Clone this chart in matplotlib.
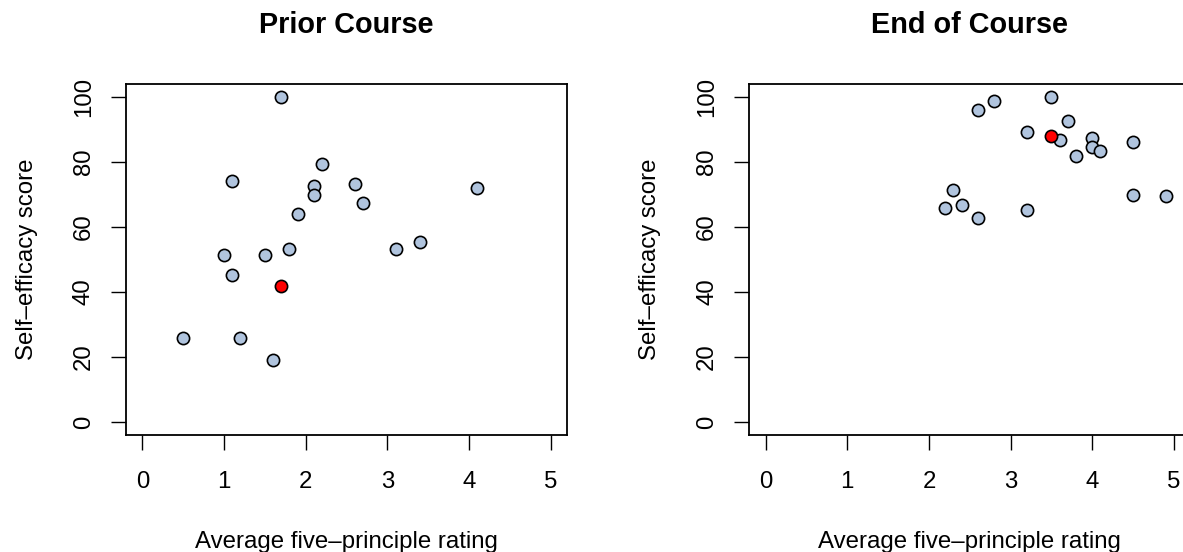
import matplotlib
matplotlib.use("Agg")
import matplotlib.pyplot as plt

plt.rcParams['font.family'] = ['Liberation Sans', 'DejaVu Sans']

# Prior Course (blue points) and highlighted respondent (red)
prior_x = [1.7, 2.2, 1.1, 2.1, 2.1, 2.6, 4.1, 2.7, 1.9, 1.0, 1.5, 1.8, 3.1, 3.4, 1.1, 0.5, 1.2, 1.6]
prior_y = [100, 79.3, 74.1, 72.6, 70.0, 73.3, 72.0, 67.3, 64.0, 51.3, 51.3, 53.2, 53.2, 55.3, 45.3, 26.0, 26.0, 19.2]
prior_red = (1.7, 42.0)

# End of Course
end_x = [3.5, 2.8, 2.6, 3.7, 3.2, 3.6, 4.0, 4.0, 4.1, 3.8, 4.5, 2.3, 2.2, 2.4, 2.6, 3.2, 4.5, 4.9]
end_y = [100, 98.7, 96.0, 92.7, 89.3, 86.7, 87.4, 84.7, 83.4, 82.0, 86.1, 71.4, 66.0, 66.7, 62.7, 65.3, 70.0, 69.4]
end_red = (3.5, 88.0)

titles = ["Prior Course", "End of Course"]
xlab = "Average five\u2013principle rating"
ylab = "Self\u2013efficacy score"
xticks = [0, 1, 2, 3, 4, 5]
yticks = [0, 20, 40, 60, 80, 100]

W, H = 1183, 552
fig = plt.figure(figsize=(W / 100, H / 100), dpi=100)

panels = [(prior_x, prior_y, prior_red), (end_x, end_y, end_red)]
lefts = [126, 749.3]
aw, top, bottom = 441, 84, 435
fs = 17.3

for i, (xs, ys, red) in enumerate(panels):
    ax = fig.add_axes([lefts[i] / W, (H - bottom) / H, aw / W, (bottom - top) / H])
    ax.plot(xs, ys, 'o', ms=8.8, mfc='lightsteelblue', mec='black', mew=1.2, clip_on=False)
    ax.plot([red[0]], [red[1]], 'o', ms=8.8, mfc='red', mec='black', mew=1.2, clip_on=False)
    ax.set_xlim(-0.2, 5.2)
    ax.set_ylim(-4, 104)
    ax.set_xticks(xticks)
    ax.set_yticks(yticks)
    ax.set_xticklabels([str(t) for t in xticks])
    ax.set_yticklabels([str(t) for t in yticks], rotation=90, va='center')
    ax.tick_params(direction='out', length=10.5, width=1.0, labelsize=fs)
    ax.tick_params(axis='x', pad=15.5)
    ax.tick_params(axis='y', pad=12)
    for s in ax.spines.values():
        s.set_linewidth(1.3)
    ax.set_xlabel(xlab, fontsize=fs)
    ax.set_ylabel(ylab, fontsize=fs)
    ax.xaxis.set_label_coords(0.5, -0.305)
    ax.yaxis.set_label_coords(-0.2256, 0.5)
    ax.xaxis.label.set_va('center')
    ax.yaxis.label.set_va('center')
    ax.text(0.5, 1.1444, titles[i], transform=ax.transAxes, ha='center', va='baseline',
            fontsize=20.8, fontweight='bold')

fig.savefig("out.png", dpi=100)
